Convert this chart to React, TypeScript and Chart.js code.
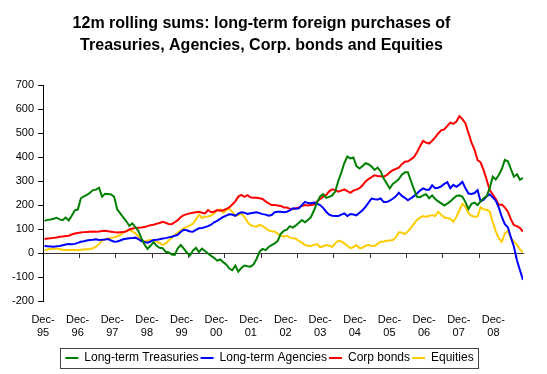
import React, { useEffect, useRef } from 'react';
import { Chart, registerables } from 'chart.js';

Chart.register(...registerables);

// Monthly 12m rolling sums, starting Dec-95 (USD bn)
const treasuries = [
  134, 138, 140, 143, 147, 140, 137, 148, 136, 155, 178, 181, 228, 236, 242, 251, 262, 264, 272, 235,
  247, 246, 244, 234, 182, 165, 148, 132, 113, 123, 108, 92, 62, 35, 17, 30, 45, 30, 22, 20,
  5, 2, -6, -8, 20, 33, 18, 2, -11, 10, 22, 4, 18, 8, -2, -12, -20, -32, -27, -38,
  -48, -65, -72, -52, -78, -62, -52, -55, -57, -48, -25, 5, 17, 12, 25, 33, 40, 50, 80, 92,
  97, 112, 106, 115, 126, 137, 128, 138, 150, 178, 210, 236, 245, 230, 234, 240, 256, 300, 335, 375,
  402, 394, 398, 362, 352, 362, 374, 370, 360, 346, 356, 340, 310, 290, 269, 288, 297, 308, 326, 336,
  336, 300, 265, 234, 232, 240, 245, 228, 240, 225, 215, 207, 198, 206, 215, 227, 238, 240, 234, 212,
  183, 205, 210, 200, 215, 228, 237, 270, 318, 306, 325, 350, 388, 382, 350, 318, 328, 305, 313,
];

const agencies = [
  29, 28, 27, 26, 28, 29, 32, 35, 37, 36, 38, 42, 47, 49, 52, 54, 55, 57, 54, 55,
  56, 58, 52, 47, 48, 52, 57, 59, 61, 62, 64, 58, 50, 46, 43, 48, 54, 55, 57, 60,
  62, 65, 68, 72, 76, 88, 97, 95, 90, 89, 96, 103, 104, 108, 112, 118, 128, 134, 142, 150,
  156, 161, 160, 155, 164, 170, 168, 163, 166, 168, 170, 166, 162, 160, 155, 158, 170, 172, 172, 170,
  172, 178, 186, 184, 186, 200, 213, 208, 207, 210, 205, 200, 188, 172, 160, 155, 154, 154, 160, 165,
  154, 162, 160, 157, 168, 178, 192, 210, 227, 224, 223, 227, 212, 212, 218, 226, 236, 251, 238, 230,
  220, 228, 237, 248, 260, 269, 264, 264, 282, 270, 272, 278, 288, 295, 270, 284, 276, 285, 296, 270,
  248, 246, 250, 262, 215, 222, 236, 245, 232, 218, 190, 150, 120, 107, 65, 26, -30, -72, -112,
];

const corpBonds = [
  58, 60, 61, 63, 65, 68, 69, 71, 72, 77, 81, 83, 85, 87, 88, 89, 90, 89, 90, 92,
  93, 91, 89, 87, 85, 86, 87, 90, 98, 102, 104, 105, 106, 108, 112, 116, 118, 122, 125, 130,
  126, 121, 120, 128, 137, 150, 158, 162, 165, 168, 170, 172, 168, 165, 179, 170, 172, 179, 176, 178,
  184, 190, 202, 215, 235, 242, 234, 241, 232, 230, 230, 228, 225, 215, 207, 200, 200, 198, 196, 190,
  190, 184, 182, 187, 190, 196, 200, 198, 200, 202, 215, 225, 234, 242, 257, 265, 262, 256, 260, 265,
  258, 251, 260, 264, 270, 282, 298, 308, 316, 324, 321, 320, 318, 324, 336, 345, 350, 356, 370, 380,
  382, 390, 400, 420, 445, 467, 460, 456, 468, 482, 498, 511, 515, 530, 543, 538, 548, 570, 558, 540,
  500, 460, 430, 387, 378, 345, 305, 262, 245, 225, 200, 202, 190, 172, 140, 116, 112, 104, 89,
];

const equities = [
  12, 15, 17, 18, 19, 17, 14, 13, 12, 12, 12, 13, 14, 15, 16, 17, 20, 26, 38, 50,
  58, 61, 63, 65, 70, 75, 85, 93, 96, 90, 82, 68, 55, 48, 52, 54, 52, 48, 42, 33,
  40, 52, 62, 75, 84, 95, 104, 109, 115, 122, 140, 160, 146, 151, 152, 156, 166, 176, 182, 168,
  178, 184, 172, 155, 158, 165, 151, 130, 116, 112, 110, 118, 112, 104, 94, 91, 90, 80, 72, 68,
  72, 64, 61, 60, 50, 43, 33, 30, 29, 34, 37, 24, 28, 33, 30, 26, 40, 52, 48, 40,
  30, 20, 25, 33, 20, 22, 30, 33, 30, 29, 38, 47, 48, 51, 52, 54, 65, 86, 85, 79,
  90, 105, 122, 138, 148, 154, 150, 155, 158, 154, 172, 160, 148, 146, 142, 130, 150, 178, 205, 192,
  165, 155, 151, 152, 190, 182, 180, 172, 130, 90, 62, 47, 82, 92, 62, 47, 35, 15, 3,
];

const xTickLabels = [
  'Dec-95', 'Dec-96', 'Dec-97', 'Dec-98', 'Dec-99', 'Dec-00', 'Dec-01',
  'Dec-02', 'Dec-03', 'Dec-04', 'Dec-05', 'Dec-06', 'Dec-07', 'Dec-08',
];

const yMin = -200;
const yMax = 700;
const yStep = 100;

const seriesNames = ['Long-term Treasuries', 'Long-term Agencies', 'Corp bonds', 'Equities'];
const seriesColors = ['#008000', '#0000FF', '#FF0000', '#FFCC00'];

const FONT = "'Liberation Sans', Arial, Helvetica, sans-serif";

const toPoints = (arr: number[]) => arr.map((v, i) => ({ x: i, y: v }));

const LEGEND_SHIFT = 8;

const legendBorder = {
  id: 'legendBorder',
  afterUpdate(chart: any) {
    const lg = chart.legend;
    if (!lg) return;
    lg.left += LEGEND_SHIFT;
    lg.right += LEGEND_SHIFT;
    (lg.legendHitBoxes || []).forEach((h: any) => {
      h.left += LEGEND_SHIFT;
    });
  },
  afterDraw(chart: any) {
    const lg = chart.legend;
    if (!lg || !lg.legendHitBoxes || !lg.legendHitBoxes.length) return;
    const hb = lg.legendHitBoxes;
    const l = Math.min(...hb.map((h: any) => h.left)) - 5;
    const r = Math.max(...hb.map((h: any) => h.left + h.width)) + 5;
    const t = Math.min(...hb.map((h: any) => h.top)) - 4;
    const b = Math.max(...hb.map((h: any) => h.top + h.height)) + 4;
    const ctx = chart.ctx;
    ctx.save();
    ctx.strokeStyle = '#444';
    ctx.lineWidth = 1;
    ctx.strokeRect(Math.round(l) + 0.5, Math.round(t) + 0.5, Math.round(r - l), Math.round(b - t));
    ctx.restore();
  },
};

export default function App() {
  const ref = useRef<HTMLCanvasElement | null>(null);

  useEffect(() => {
    if (!ref.current) return;
    const n = treasuries.length;
    const yearTicks: number[] = [];
    for (let v = 11.5; v < n; v += 12) yearTicks.push(v);
    const labelTicks = xTickLabels.map((_, k) => -0.5 + 11.44 * k);

    const chart = new Chart(ref.current, {
      type: 'line',
      data: {
        datasets: [treasuries, agencies, corpBonds, equities].map((arr, i) => ({
          label: seriesNames[i],
          data: toPoints(arr),
          borderColor: seriesColors[i],
          backgroundColor: seriesColors[i],
          borderWidth: 2,
          pointRadius: 0,
          tension: 0,
          fill: false,
        })),
      },
      options: {
        animation: false,
        responsive: true,
        maintainAspectRatio: false,
        layout: { padding: { left: 0, right: 24, top: 0, bottom: 0 } },
        plugins: {
          title: {
            display: true,
            text: [
              '12m rolling sums: long-term foreign purchases of',
              'Treasuries, Agencies, Corp. bonds and Equities',
            ],
            color: '#000',
            font: { family: FONT, size: 16, weight: 'bold', lineHeight: 1.375 },
            padding: { top: 13, bottom: 28 },
          },
          legend: {
            display: true,
            position: 'bottom',
            labels: {
              usePointStyle: true,
              pointStyle: 'line',
              pointStyleWidth: 13,
              boxHeight: 12,
              padding: 2,
              color: '#000',
              font: { family: FONT, size: 12 },
            },
          },
          tooltip: { enabled: false },
        },
        scales: {
          x: {
            type: 'linear',
            min: -0.5,
            max: n - 1,
            position: 'bottom',
            afterBuildTicks: (scale: any) => {
              scale.ticks = labelTicks.map((v) => ({ value: v }));
            },
            afterFit: (scale: any) => {
              scale.height = 49;
            },
            grid: { display: false },
            border: { display: false },
            ticks: {
              autoSkip: false,
              maxRotation: 0,
              padding: 4,
              color: '#000',
              font: { family: FONT, size: 11 },
              callback: (_v: any, i: number) => {
                const s = xTickLabels[i] || '';
                const [a, b] = s.split('-');
                return [a + '-', b];
              },
            },
          },
          x2: {
            type: 'linear',
            axis: 'x',
            min: -0.5,
            max: n - 1,
            position: { y: 0 },
            afterBuildTicks: (scale: any) => {
              scale.ticks = yearTicks.map((v) => ({ value: v }));
            },
            grid: { display: true, drawOnChartArea: false, drawTicks: true, tickLength: 4, color: '#333' },
            border: { display: true, color: '#333', width: 1 },
            ticks: { display: false },
          },
          y: {
            type: 'linear',
            min: yMin,
            max: yMax,
            afterFit: (scale: any) => {
              scale.width = 43;
            },
            grid: { display: true, drawOnChartArea: false, drawTicks: true, tickLength: 5, color: '#000' },
            border: { display: true, color: '#000', width: 1 },
            ticks: {
              stepSize: yStep,
              padding: 4,
              color: '#000',
              font: { family: FONT, size: 11 },
            },
          },
        },
      } as any,
      plugins: [legendBorder],
    });
    return () => chart.destroy();
  }, []);

  return (
    <div style={{ position: 'absolute', left: 0, top: 0, width: 547, height: 374, background: '#fff' }}>
      <canvas ref={ref} />
    </div>
  );
}
